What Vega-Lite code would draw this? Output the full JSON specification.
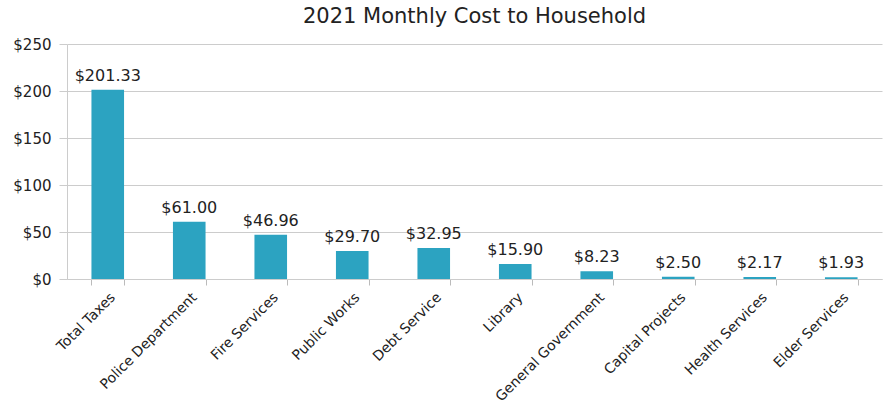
{
  "$schema": "https://vega.github.io/schema/vega-lite/v6.json",
  "width": 815,
  "height": 235,
  "autosize": {"type": "none"},
  "padding": {"left": 67, "top": 44, "right": 3, "bottom": 127},
  "background": "white",
  "title": {"text": "2021 Monthly Cost to Household", "font": "DejaVu Sans", "fontSize": 21, "fontWeight": "normal", "color": "#222", "offset": 10, "anchor": "middle"},
  "config": {"view": {"stroke": null}, "font": "DejaVu Sans"},
  "data": {"values": [
    {"category": "Total Taxes", "cost": 201.33},
    {"category": "Police Department", "cost": 61.00},
    {"category": "Fire Services", "cost": 46.96},
    {"category": "Public Works", "cost": 29.70},
    {"category": "Debt Service", "cost": 32.95},
    {"category": "Library", "cost": 15.90},
    {"category": "General Government", "cost": 8.23},
    {"category": "Capital Projects", "cost": 2.50},
    {"category": "Health Services", "cost": 2.17},
    {"category": "Elder Services", "cost": 1.93}
  ]},
  "encoding": {
    "x": {"field": "category", "type": "nominal", "sort": null,
      "scale": {"paddingInner": 0.6, "paddingOuter": 0.3},
      "axis": {"title": null, "labelAngle": -45, "labelFontSize": 14, "labelColor": "#222", "labelPadding": 5,
        "tickBand": "extent", "tickColor": "#bbb", "tickSize": 6, "domainColor": "#ccc", "grid": false}},
    "y": {"field": "cost", "type": "quantitative",
      "scale": {"domain": [0, 250]},
      "axis": {"title": null, "values": [0, 50, 100, 150, 200, 250], "format": "$,.0f", "labelFontSize": 15, "labelColor": "#222",
        "gridColor": "#ccc", "domainColor": "#ccc", "tickColor": "#ccc", "tickSize": 8, "labelPadding": 8}}
  },
  "layer": [
    {"mark": {"type": "bar", "color": "#2ca3c1"}},
    {"mark": {"type": "text", "dy": -14, "fontSize": 16, "color": "#222"},
      "encoding": {"text": {"field": "cost", "type": "quantitative", "format": "$,.2f"}}}
  ]
}
